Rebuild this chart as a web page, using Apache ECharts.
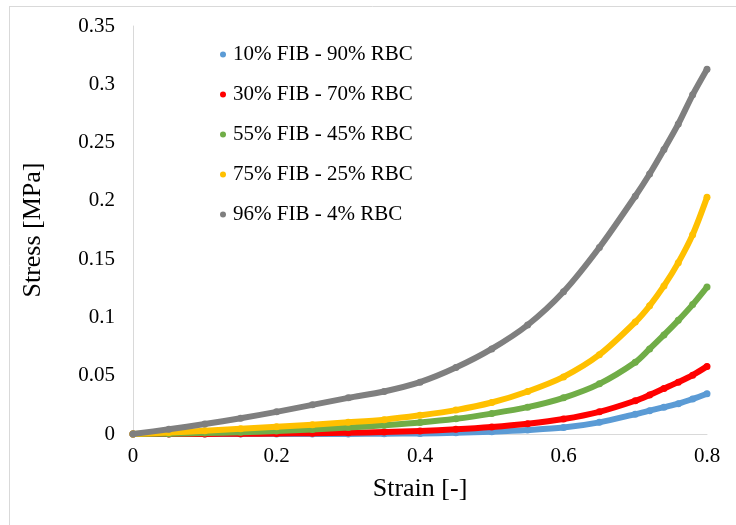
<!DOCTYPE html>
<html>
<head>
<meta charset="utf-8">
<script src="https://cdn.jsdelivr.net/npm/echarts@6/dist/echarts.min.js"></script>
<style>
html,body{margin:0;padding:0;background:#fff;}
#chart{width:736px;height:525px;}
</style>
</head>
<body>
<div id="chart"></div>
<script>
// Strain values (x) shared by all series
var strain = [0, 0.05, 0.1, 0.15, 0.2, 0.25, 0.3, 0.35, 0.4, 0.45, 0.5, 0.55, 0.6, 0.65, 0.7, 0.72, 0.74, 0.76, 0.78, 0.8];
var seriesNames = ["10% FIB - 90% RBC", "30% FIB - 70% RBC", "55% FIB - 45% RBC", "75% FIB - 25% RBC", "96% FIB - 4% RBC"];
var fib10 = [0, 0, 0, 0, 0, 0, 0.0001, 0.0002, 0.0005, 0.0010, 0.0020, 0.0034, 0.0055, 0.0100, 0.0170, 0.0200, 0.0230, 0.0260, 0.0300, 0.0345];
var fib30 = [0, 0, 0.0001, 0.0002, 0.0004, 0.0007, 0.0011, 0.0017, 0.0026, 0.0040, 0.0060, 0.0088, 0.0128, 0.0190, 0.0285, 0.0335, 0.0390, 0.0445, 0.0505, 0.0580];
var fib55 = [0, 0.0003, 0.0008, 0.0015, 0.0025, 0.0038, 0.0055, 0.0075, 0.0098, 0.0130, 0.0175, 0.0230, 0.0310, 0.0430, 0.0615, 0.0730, 0.0850, 0.0975, 0.1110, 0.1260];
var fib75 = [0, 0.0012, 0.0028, 0.0045, 0.0062, 0.0080, 0.0100, 0.0123, 0.0160, 0.0205, 0.0270, 0.0365, 0.0490, 0.0680, 0.0960, 0.1100, 0.1270, 0.1470, 0.1710, 0.2030];
var fib96 = [0, 0.0040, 0.0085, 0.0135, 0.0190, 0.0250, 0.0310, 0.0365, 0.0445, 0.0570, 0.0730, 0.0935, 0.1220, 0.1600, 0.2040, 0.2230, 0.2440, 0.2660, 0.2910, 0.3130];
var colors = ["#5b9bd5", "#ff0000", "#70ad47", "#ffc000", "#7f7f7f"];

var allValues = [fib10, fib30, fib55, fib75, fib96];
var font = "'Liberation Serif', 'Times New Roman', serif";

function pairs(vals) {
  return strain.map(function (x, i) { return [x, vals[i]]; });
}

var chart = echarts.init(document.getElementById('chart'));
chart.setOption({
  animation: false,
  backgroundColor: '#fff',
  color: colors,
  graphic: [
    { type: 'line', shape: { x1: 9, y1: 6.5, x2: 736, y2: 6.5 }, style: { stroke: '#d9d9d9', lineWidth: 1 } },
    { type: 'line', shape: { x1: 9.5, y1: 6, x2: 9.5, y2: 525 }, style: { stroke: '#d9d9d9', lineWidth: 1 } }
  ],
  grid: { left: 133, top: 26, right: 29, bottom: 91 },
  legend: {
    orient: 'vertical',
    left: 215,
    top: 39,
    itemGap: 19,
    itemWidth: 10,
    itemHeight: 6,
    icon: 'circle',
    textStyle: { fontFamily: font, fontSize: 21, color: '#000' },
    data: seriesNames
  },
  xAxis: {
    type: 'value',
    min: 0, max: 0.8, interval: 0.2,
    name: 'Strain [-]',
    nameLocation: 'middle',
    nameGap: 42,
    nameTextStyle: { fontFamily: font, fontSize: 26, color: '#000' },
    axisLine: { show: true, onZero: false, lineStyle: { color: '#d9d9d9', width: 1 } },
    axisTick: { show: false },
    splitLine: { show: false },
    axisLabel: { fontFamily: font, fontSize: 21, color: '#000', margin: 12,
      formatter: function (v) { return String(Math.round(v * 10) / 10); } }
  },
  yAxis: {
    type: 'value',
    min: 0, max: 0.35, interval: 0.05,
    name: 'Stress [MPa]',
    nameLocation: 'middle',
    nameGap: 87,
    nameTextStyle: { fontFamily: font, fontSize: 26, color: '#000' },
    axisLine: { show: true, lineStyle: { color: '#d9d9d9', width: 1 } },
    axisTick: { show: false },
    splitLine: { show: false },
    axisLabel: { fontFamily: font, fontSize: 21, color: '#000', margin: 18,
      formatter: function (v) { return String(Math.round(v * 100) / 100); } }
  },
  series: allValues.map(function (vals, i) {
    return {
      name: seriesNames[i],
      type: 'line',
      smooth: 0.3,
      data: pairs(vals),
      symbol: 'circle',
      symbolSize: 7,
      showSymbol: true,
      showAllSymbol: true,
      itemStyle: { color: colors[i] },
      lineStyle: { color: colors[i], width: 6, cap: 'round', join: 'round' },
      z: 2 + i
    };
  })
});
</script>
</body>
</html>
